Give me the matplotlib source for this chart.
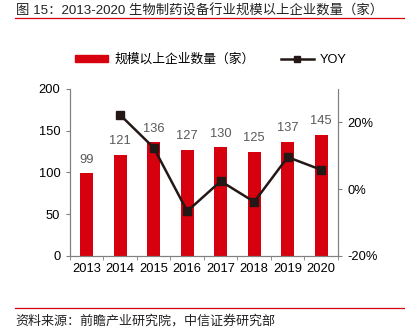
import matplotlib
matplotlib.use("Agg")
import matplotlib.pyplot as plt
from matplotlib.lines import Line2D
from matplotlib.patches import Patch

# ---------------------------------------------------------
# 数据
# ---------------------------------------------------------
years = ['2013', '2014', '2015', '2016', '2017', '2018', '2019', '2020']
companies = [99, 121, 136, 127, 130, 125, 137, 145]
yoy = [None, 22.2, 12.4, -6.6, 2.4, -3.8, 9.6, 5.8]

plt.rcParams['font.family'] = ['Liberation Sans', 'Noto Sans CJK SC']

red = '#d7000f'
dark = '#231815'
grey = '#808080'

fig = plt.figure(figsize=(4.06, 3.32), dpi=100)
ax = fig.add_axes([0.1724, 0.229, 0.660, 0.503])
ax2 = ax.twinx()

x = list(range(len(years)))
ax.bar(x, companies, width=0.4, color=red, zorder=2)
for xi, v in zip(x, companies):
    ax.text(xi, v + 9, str(v), ha='center', va='bottom', fontsize=9.3, color='#595959')

xs = [xi for xi, v in zip(x, yoy) if v is not None]
ys = [v for v in yoy if v is not None]
ax2.plot(xs, ys, color=dark, lw=1.8, marker='s', markersize=6, zorder=3)

ax.set_xlim(-0.5, len(years) - 0.5)
ax.set_ylim(0, 200)
ax.set_yticks([0, 50, 100, 150, 200])
ax2.set_ylim(-20, 30)
ax2.set_yticks([-20, 0, 20])
ax2.set_yticklabels(['-20%', '0%', '20%'])

ax.set_xticks(x)
ax.set_xticklabels(years)
ax.set_xticks([i - 0.5 for i in range(len(years) + 1)], minor=True)
ax.tick_params(axis='x', which='major', length=0, pad=5, labelsize=9.3)
ax.tick_params(axis='x', which='minor', length=3, color=grey, direction='out')
ax.tick_params(axis='y', length=3, color=grey, labelsize=9.3, pad=4)
ax2.tick_params(axis='y', length=3, color=grey, labelsize=9.3, pad=4)

for a in (ax, ax2):
    a.spines['top'].set_visible(False)
    for s in ('left', 'right', 'bottom'):
        a.spines[s].set_color(grey)
        a.spines[s].set_linewidth(0.8)
ax.set_zorder(ax2.get_zorder() - 1)
ax.patch.set_visible(False)
ax2.patch.set_visible(False)

# leyenda
handles = [Patch(color=red), Line2D([], [], color=dark, lw=1.8, marker='s', markersize=5)]
fig.legend(handles, ['规模以上企业数量（家）', 'YOY'], loc='center', bbox_to_anchor=(0.52, 0.82),
           ncol=2, frameon=False, fontsize=9.2, handlelength=2.6, handleheight=0.5,
           columnspacing=2.0, handletextpad=0.5)

# título y fuente
fig.text(0.039, 0.966, '图 15：2013-2020 生物制药设备行业规模以上企业数量（家）',
         fontsize=9.6, color='#222222', va='center', ha='left')
fig.add_artist(Line2D([0.037, 0.995], [0.945, 0.945], color=red, lw=0.9))
fig.add_artist(Line2D([0.037, 0.995], [0.072, 0.072], color=red, lw=0.9))
fig.text(0.039, 0.033, '资料来源：前瞻产业研究院，中信证券研究部',
         fontsize=9.4, color='#222222', va='center', ha='left')

fig.savefig('out.png', dpi=100)
